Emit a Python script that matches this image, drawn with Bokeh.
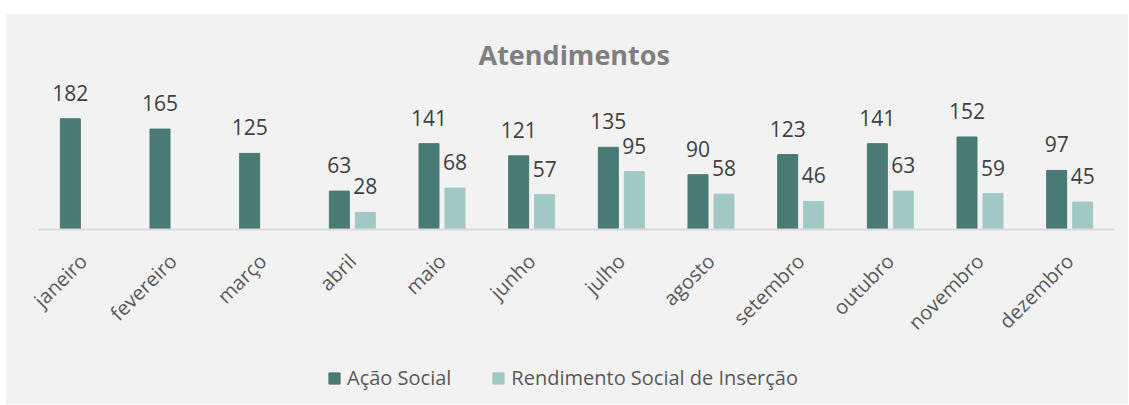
import math
from bokeh.plotting import figure
from bokeh.models import ColumnDataSource, Range1d, Legend, LegendItem, FixedTicker
from bokeh.transform import dodge
from bokeh.core.properties import value
from bokeh.embed import file_html
from bokeh.resources import INLINE

months = ["janeiro", "fevereiro", "março", "abril", "maio", "junho", "julho",
          "agosto", "setembro", "outubro", "novembro", "dezembro"]
acao_social = [182, 165, 125, 63, 141, 121, 135, 90, 123, 141, 152, 97]
rsi = [None, None, None, 28, 68, 57, 95, 58, 46, 63, 59, 45]
series_names = ["Ação Social", "Rendimento Social de Inserção"]
title_text = "Atendimentos"

DARK = "#497A76"
LIGHT = "#A2C8C5"
BG = "#f2f2f2"
FONT = "Open Sans"

idx = list(range(len(months)))
src1 = ColumnDataSource(dict(idx=idx, val=acao_social,
                             lbl=[str(v) for v in acao_social]))
i2 = [i for i, v in zip(idx, rsi) if v is not None]
v2 = [v for v in rsi if v is not None]
src2 = ColumnDataSource(dict(idx=i2, val=v2, lbl=[str(v) for v in v2]))

CAT_PX = 1076 / 12.0
x_start = -0.5 - 32 / CAT_PX
x_end = len(months) - 0.5 + 14 / CAT_PX

p = figure(x_range=Range1d(x_start, x_end), y_range=Range1d(-287.8, 258),
           width=1122, height=390, output_backend="svg", toolbar_location=None,
           y_axis_location=None,
           min_border_left=0, min_border_right=0, min_border_top=58, min_border_bottom=0,
           background_fill_color=BG, border_fill_color=BG,
           outline_line_color=None)
p.margin = (14, 0, 0, 6)
p.styles = {"background-color": BG}

p.title.text = title_text
p.title.align = "left"
p.title.offset = 472
p.title.text_font = FONT
p.title.text_font_size = "27px"
p.title.text_font_style = "bold"
p.title.text_color = "#7f7f7f"
p.title.standoff = 0

OFF = 0.145
W = 0.223
r1 = p.vbar(x=dodge("idx", -OFF), top="val", width=W,
            source=src1, fill_color=DARK, line_color=DARK)
r2 = p.vbar(x=dodge("idx", OFF), top="val", width=W,
            source=src2, fill_color=LIGHT, line_color=LIGHT)

for src, off in ((src1, -OFF), (src2, OFF)):
    p.text(x=dodge("idx", off), y="val", text="lbl", source=src,
           text_align="center", text_baseline="alphabetic", y_offset=-26,
           text_font=value(FONT), text_font_size=value("21px"), text_color="#404040")

p.xgrid.grid_line_color = None
p.ygrid.grid_line_color = None
ax = p.xaxis[0]
ax.fixed_location = 0
ax.bounds = (-0.5, len(months) - 0.5)
ax.ticker = FixedTicker(ticks=idx)
ax.major_label_overrides = {i: m for i, m in zip(idx, months)}
ax.major_label_orientation = math.pi / 4
ax.axis_line_color = "#d9d9d9"
ax.axis_line_width = 2
ax.major_tick_line_color = None
ax.minor_tick_line_color = None
ax.major_label_text_font = FONT
ax.major_label_text_font_size = "20px"
ax.major_label_text_color = "#595959"
ax.major_label_standoff = 22

legend = Legend(items=[LegendItem(label=series_names[0], renderers=[r1]),
                       LegendItem(label=series_names[1], renderers=[r2])],
                orientation="horizontal", location=(321, 13),
                glyph_width=14, glyph_height=14, label_standoff=6, spacing=40,
                padding=0, margin=0, border_line_color=None, background_fill_alpha=0,
                label_text_font=FONT, label_text_font_size="20px",
                label_text_color="#595959")
p.add_layout(legend, "center")

open("out.html", "w").write(file_html(p, INLINE))
